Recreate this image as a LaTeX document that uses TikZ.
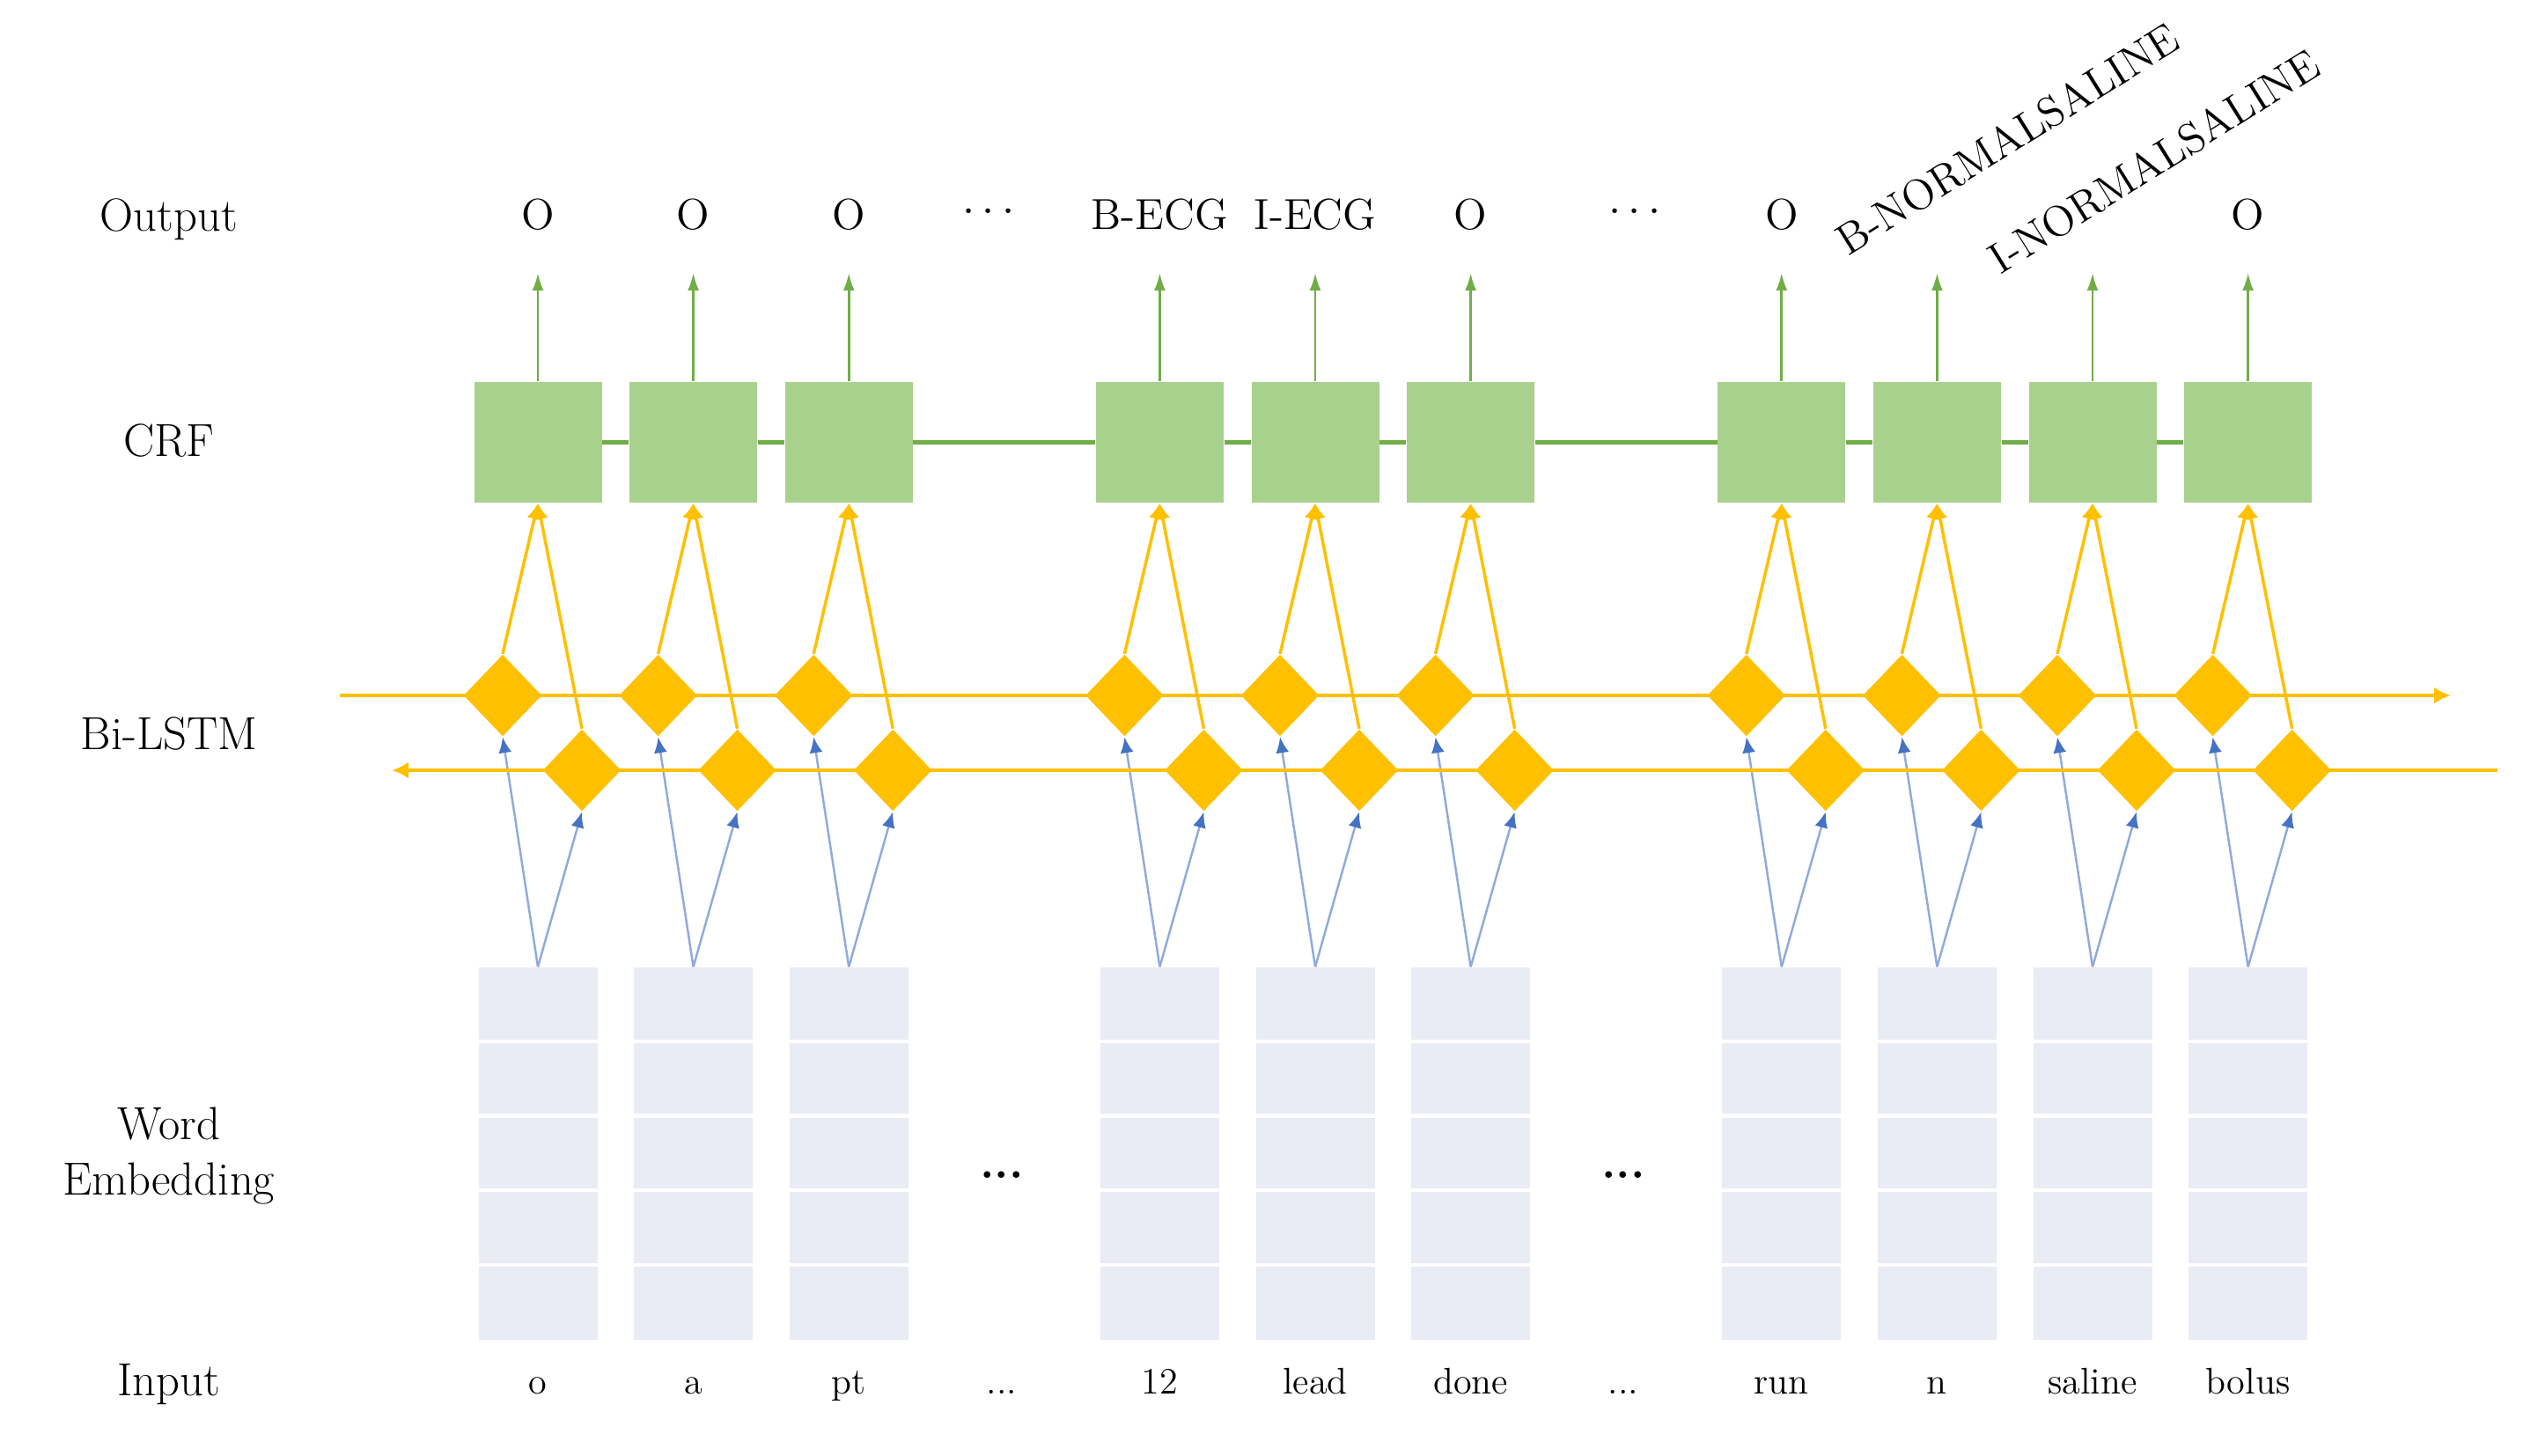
\documentclass[tikz,border=0pt]{standalone}
\usetikzlibrary{shapes.geometric,arrows.meta,positioning}
\definecolor{crfgreen}{HTML}{A9D18E}
\definecolor{arrowgreen}{HTML}{70AD47}
\definecolor{lstmyellow}{HTML}{FFC000}
\definecolor{embblue}{HTML}{E9EBF5}
\definecolor{lineblue}{HTML}{8FAADC}
\definecolor{tipblue}{HTML}{4472C4}
\tikzset{
  crfbox/.style={fill=crfgreen, minimum width=1.45cm, minimum height=1.37cm, inner sep=0},
  lstmcell/.style={diamond, fill=lstmyellow, minimum width=0.89cm, minimum height=0.93cm, inner sep=0},
  embcol/.style={fill=embblue, minimum width=1.35cm, minimum height=4.23cm, inner sep=0},
  cellgap/.style={white, line width=1.2pt},
  rowlabel/.style={font=\fontsize{15}{18}\selectfont, align=center},
  tagtext/.style={font=\fontsize{14}{16}\selectfont},
  wordtext/.style={font=\fontsize{12}{14}\selectfont},
  crfline/.style={arrowgreen, line width=1.7pt},
  lstmline/.style={lstmyellow, line width=1.3pt},
  greenarrow/.style={arrowgreen, line width=0.8pt, -{Latex[length=0.2cm,width=0.13cm]}},
  yellowarrow/.style={lstmyellow, line width=1pt, -{Latex[length=0.18cm,width=0.17cm]}},
  bluearrow/.style={lineblue, line width=0.7pt, -{Latex[length=0.18cm,width=0.15cm,color=tipblue]}}
}
\begin{document}
\begin{tikzpicture}
\useasboundingbox (0,0) rectangle (28.83,16.53);
% row labels
\node[rowlabel, anchor=base] (lbloutput) at (1.92,13.90) {Output};
\node[rowlabel] (lblcrf) at (1.92,11.52) {CRF};
\node[rowlabel] (lbllstm) at (1.92,8.20) {Bi-LSTM};
\node[rowlabel] (lblemb) at (1.92,3.40) {Word\\Embedding};
\node[rowlabel, anchor=base] (lblinput) at (1.92,0.68) {Input};
% one column per word
\foreach \k/\x/\word in {1/0/o, 2/1/a, 3/2/pt, 4/4/12, 5/5/lead, 6/6/done, 7/8/run, 8/9/n, 9/10/saline, 10/11/bolus}{
  \pgfmathsetmacro{\cx}{6.11+1.766*\x}
  \node[crfbox] (crf\k) at (\cx,11.505) {};
  \node[lstmcell] (fw\k) at (\cx-0.40,8.63) {};
  \node[lstmcell] (bw\k) at (\cx+0.50,7.78) {};
  \node[embcol] (emb\k) at (\cx,3.425) {};
  \foreach \j in {1,...,4}
    \draw[cellgap] ([yshift=-\j*0.846cm]emb\k.north west) -- ([yshift=-\j*0.846cm]emb\k.north east);
  \node[wordtext, anchor=base] (word\k) at (\cx,0.70) {\word};
  \coordinate (tip\k) at (\cx,13.43);
  \draw[greenarrow] (crf\k.north) -- (tip\k);
  \draw[yellowarrow] (fw\k.north) -- (crf\k.south);
  \draw[yellowarrow] (bw\k.north) -- (crf\k.south);
  \draw[bluearrow] (emb\k.north) -- (fw\k.south);
  \draw[bluearrow] (emb\k.north) -- (bw\k.south);
}
% CRF chain
\foreach \a/\b in {1/2,2/3,3/4,4/5,5/6,6/7,7/8,8/9,9/10}
  \draw[crfline] (crf\a) -- (crf\b);
% forward and backward LSTM
\coordinate (fwstart) at (3.86,8.63);
\coordinate (fwend) at (27.84,8.63);
\coordinate (bwstart) at (28.37,7.78);
\coordinate (bwend) at (4.45,7.78);
\draw[lstmline, -{Latex[length=0.19cm,width=0.19cm]}] (fwstart) -- (fwend);
\draw[lstmline, -{Latex[length=0.19cm,width=0.19cm]}] (bwstart) -- (bwend);
% output tags
\foreach \k/\tag in {1/O, 2/O, 3/O, 4/B-ECG, 5/I-ECG, 6/O, 7/O, 10/O}
  \node[tagtext, anchor=base] (tag\k) at ([yshift=0.49cm]tip\k) {\tag};
\node[tagtext, rotate=32, anchor=south west, inner sep=0] (tag8) at ([xshift=-1.01cm,yshift=0.17cm]tip8) {B-NORMALSALINE};
\node[tagtext, rotate=32, anchor=south west, inner sep=0] (tag9) at ([xshift=-1.04cm,yshift=-0.04cm]tip9) {I-NORMALSALINE};
% skipped words
\node[tagtext] (tagdots1) at (11.23,14.12) {$\cdots$};
\node[tagtext] (tagdots2) at (18.57,14.12) {$\cdots$};
\node[rowlabel] (embdots1) at (11.38,3.18) {\textbf{...}};
\node[rowlabel] (embdots2) at (18.44,3.18) {\textbf{...}};
\node[wordtext, anchor=base] (worddots1) at (11.38,0.70) {...};
\node[wordtext, anchor=base] (worddots2) at (18.44,0.70) {...};
\end{tikzpicture}
\end{document}
